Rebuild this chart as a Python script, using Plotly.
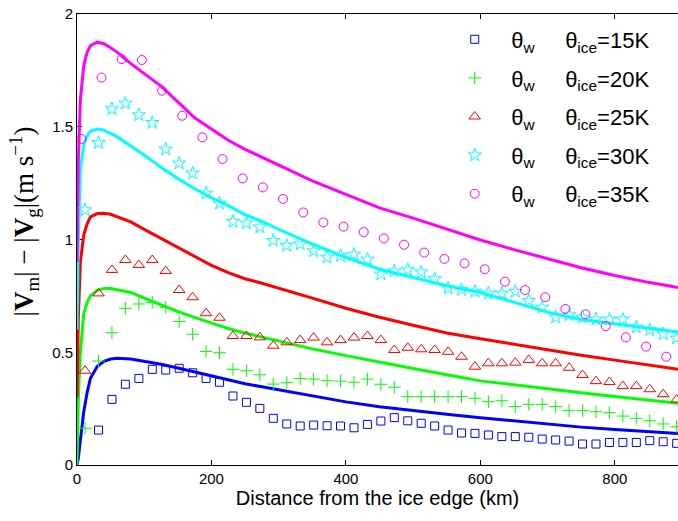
import plotly.graph_objects as go

# Model curves: distance (km) and |Vm| - |Vg| (m/s)
LINE_KM = [0, 2, 5, 10, 15, 20, 30, 40, 50, 60, 80, 100, 125, 150, 175, 200,
           225, 250, 275, 300, 350, 400, 450, 500, 550, 600, 650, 700, 750,
           800, 850, 894]
LINE_15K = [0.0, 0.03, 0.11, 0.235, 0.32, 0.385, 0.437, 0.46, 0.47, 0.473,
            0.47, 0.46, 0.447, 0.43, 0.413, 0.395, 0.377, 0.36, 0.347, 0.333,
            0.305, 0.28, 0.258, 0.24, 0.225, 0.21, 0.195, 0.18, 0.168, 0.157,
            0.147, 0.14]
LINE_20K = [0.0, 0.3, 0.5, 0.67, 0.72, 0.75, 0.775, 0.783, 0.783, 0.778,
            0.765, 0.74, 0.71, 0.68, 0.655, 0.63, 0.605, 0.585, 0.568, 0.55,
            0.515, 0.485, 0.458, 0.428, 0.4, 0.373, 0.356, 0.337, 0.32, 0.304,
            0.288, 0.274]
LINE_25K = [0.3, 0.65, 0.9, 1.02, 1.07, 1.1, 1.115, 1.116, 1.112, 1.10,
            1.078, 1.045, 1.005, 0.965, 0.922, 0.885, 0.853, 0.826, 0.806,
            0.785, 0.74, 0.695, 0.655, 0.62, 0.585, 0.56, 0.535, 0.51, 0.487,
            0.465, 0.443, 0.424]
LINE_30K = [0.6, 1.0, 1.31, 1.42, 1.46, 1.48, 1.49, 1.485, 1.47, 1.455,
            1.415, 1.375, 1.32, 1.27, 1.225, 1.185, 1.15, 1.11, 1.08, 1.045,
            0.98, 0.92, 0.868, 0.83, 0.795, 0.765, 0.72, 0.678, 0.645, 0.625,
            0.605, 0.59]
LINE_35K = [0.9, 1.35, 1.62, 1.77, 1.83, 1.86, 1.875, 1.868, 1.85, 1.83,
            1.78, 1.735, 1.68, 1.61, 1.54, 1.49, 1.44, 1.40, 1.365, 1.33,
            1.26, 1.2, 1.14, 1.095, 1.045, 0.998, 0.955, 0.915, 0.875, 0.84,
            0.81, 0.787]

# Observations every 20 km (15-30 K) and every 30 km (35 K)
OBS_KM = [12, 32, 52, 72, 92, 112, 132, 152, 172, 192, 212, 232, 252, 272,
          292, 312, 332, 352, 372, 392, 412, 432, 452, 472, 492, 512, 532,
          552, 572, 592, 612, 632, 652, 672, 692, 712, 732, 752, 772, 792,
          812, 832, 852, 872, 892]
OBS_15K = [None, 0.155, 0.291, 0.358, 0.384, 0.424, 0.421, 0.429, 0.409,
           0.384, 0.367, 0.306, 0.278, 0.251, 0.207, 0.182, 0.173, 0.177,
           0.174, 0.173, 0.165, 0.18, 0.195, 0.21, 0.196, 0.185, 0.173, 0.155,
           0.142, 0.14, 0.133, 0.126, 0.126, 0.123, 0.115, 0.111, 0.106,
           0.093, 0.093, 0.1, 0.1, 0.1, 0.108, 0.103, 0.096]
OBS_20K = [0.163, 0.461, 0.587, 0.695, 0.714, 0.721, 0.699, 0.636, 0.58,
           0.503, 0.498, 0.424, 0.418, 0.40, 0.359, 0.365, 0.384, 0.381,
           0.374, 0.372, 0.367, 0.381, 0.358, 0.345, 0.303, 0.303, 0.303,
           0.303, 0.303, 0.296, 0.281, 0.285, 0.259, 0.269, 0.269, 0.259,
           0.241, 0.241, 0.236, 0.232, 0.217, 0.207, 0.196, 0.182, 0.17]
OBS_25K = [0.418, 0.761, 0.865, 0.909, 0.887, 0.909, 0.86, 0.776, 0.744,
           0.673, 0.653, 0.572, 0.572, 0.566, 0.529, 0.544, 0.554, 0.565,
           0.544, 0.554, 0.565, 0.572, 0.554, 0.51, 0.52, 0.513, 0.51, 0.502,
           0.48, 0.436, 0.451, 0.451, 0.454, 0.466, 0.451, 0.451, 0.431,
           0.399, 0.372, 0.368, 0.35, 0.35, 0.336, 0.314, 0.29]
OBS_30K = [1.131, 1.429, 1.579, 1.604, 1.552, 1.518, 1.40, 1.338, 1.294,
           1.205, 1.16, 1.079, 1.072, 1.055, 0.995, 0.973, 0.98, 0.949, 0.921,
           0.928, 0.934, 0.912, 0.846, 0.86, 0.865, 0.855, 0.825, 0.784,
           0.777, 0.769, 0.761, 0.761, 0.769, 0.729, 0.699, 0.655, 0.665,
           0.655, 0.646, 0.646, 0.646, 0.611, 0.599, 0.581, 0.562]
OBS35_KM = [6.5, 36.5, 66.5, 96.5, 126.5, 156.5, 186.5, 216.5, 246.5, 276.5,
            306.5, 336.5, 366.5, 396.5, 426.5, 456.5, 486.5, 516.5, 546.5,
            576.5, 606.5, 636.5, 666.5, 696.5, 726.5, 756.5, 786.5, 816.5,
            846.5, 876.5]
OBS_35K = [1.446, 1.718, 1.80, 1.796, 1.66, 1.549, 1.453, 1.357, 1.271,
           1.231, 1.18, 1.12, 1.076, 1.057, 1.033, 1.005, 0.977, 0.942,
           0.914, 0.894, 0.868, 0.813, 0.776, 0.744, 0.692, 0.668, 0.616,
           0.566, 0.525, 0.48]

TEMPS = ["15K", "20K", "25K", "30K", "35K"]
COLORS = ["#0000ff", "#00ff00", "#ff0000", "#00ffff", "#ff00ff"]
SYMBOLS = ["square-open", "cross-thin", "triangle-up-open", "star-open",
           "circle-open"]
SIZES = [8, 9, 10, 10, 9]

lines = [LINE_15K, LINE_20K, LINE_25K, LINE_30K, LINE_35K]
obs_x = [OBS_KM, OBS_KM, OBS_KM, OBS_KM, OBS35_KM]
obs_y = [OBS_15K, OBS_20K, OBS_25K, OBS_30K, OBS_35K]

FONT = "Liberation Sans, Arial, sans-serif"
SERIF = "Liberation Serif, DejaVu Serif, serif"
SP = "\u00a0" * 5

fig = go.Figure()
for i in range(5):
    fig.add_trace(go.Scatter(
        x=LINE_KM, y=lines[i], mode="lines",
        line=dict(color=COLORS[i], width=3),
        showlegend=False, hoverinfo="skip"))
for i in range(5):
    fig.add_trace(go.Scatter(
        x=obs_x[i], y=obs_y[i], mode="markers",
        marker=dict(symbol=SYMBOLS[i], size=SIZES[i], color=COLORS[i],
                    line=dict(color=COLORS[i], width=1)),
        name=f"θ<sub>w</sub>{SP}θ<sub>ice</sub>={TEMPS[i]}",
        legendgroup=f"g{i}"))

fig.update_layout(
    width=678, height=521,
    margin=dict(l=77, r=0, t=14, b=56),
    paper_bgcolor="white", plot_bgcolor="white",
    font=dict(family=FONT, size=15, color="black"),
    showlegend=True,
    legend=dict(
        x=0.601, y=0.99, xanchor="left", yanchor="top",
        bgcolor="rgba(0,0,0,0)", borderwidth=0,
        font=dict(family=FONT, size=22, color="black"),
        tracegroupgap=7, itemwidth=63,
    ),
    annotations=[dict(
        text="|<b>V</b><sub>m</sub>| − |<b>V</b><sub>g</sub>|(m s<sup>−1</sup>)",
        textangle=-90, xref="paper", yref="paper",
        x=0, y=0.54, xanchor="center", yanchor="middle",
        xshift=-53, showarrow=False,
        font=dict(family=SERIF, size=27, color="black"),
    )],
)
fig.update_xaxes(
    range=[0, 894], tickvals=[0, 200, 400, 600, 800],
    ticks="inside", ticklen=5, tickcolor="black", tickwidth=1,
    showline=True, linecolor="black", linewidth=1, mirror="ticks",
    showgrid=False, zeroline=False, layer="below traces",
    tickfont=dict(family=FONT, size=15),
    title=dict(text="Distance from the ice edge (km)",
               font=dict(family=FONT, size=20), standoff=4),
)
fig.update_yaxes(
    range=[0, 2], tickvals=[0, 0.5, 1, 1.5, 2],
    ticktext=["0", "0.5", "1", "1.5", "2"],
    ticks="inside", ticklen=5, tickcolor="black", tickwidth=1,
    showline=True, linecolor="black", linewidth=1,
    showgrid=False, zeroline=False, layer="below traces",
    tickfont=dict(family=FONT, size=15),
)

fig.write_html("out.html")
